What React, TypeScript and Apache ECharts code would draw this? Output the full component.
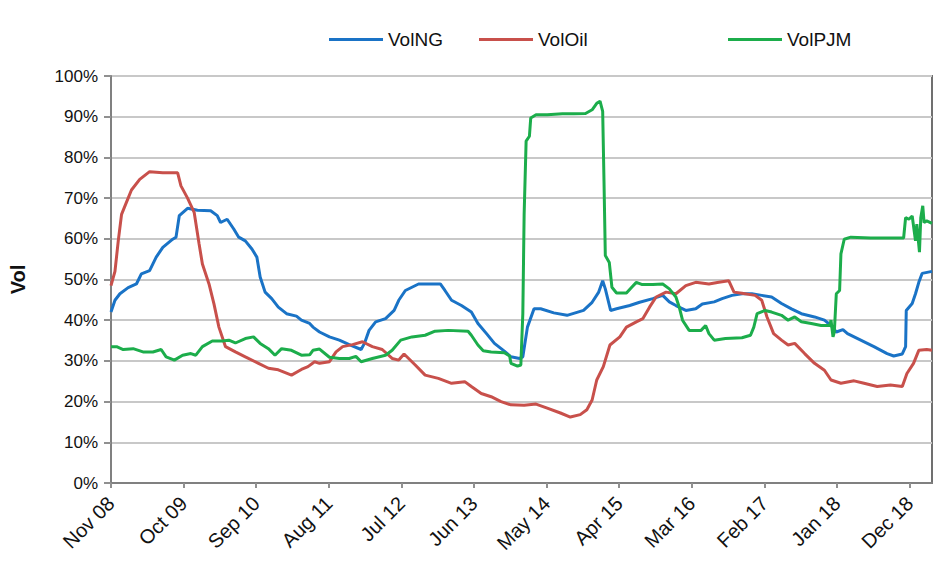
import React, { useEffect, useRef } from "react";
import * as echarts from "echarts";

// x = months since Nov 08
const xLabels = ["Nov 08", "Oct 09", "Sep 10", "Aug 11", "Jul 12", "Jun 13", "May 14", "Apr 15", "Mar 16", "Feb 17", "Jan 18", "Dec 18"];
const tickMonths = [0, 11, 22, 33, 44, 55, 66, 77, 88, 99, 110, 121];
const xMax = 124.4;

const volNG: [number, number][] = [
  [0, 42], [0.6, 44.9], [1.35, 46.5], [2.6, 48], [3.85, 48.9], [4.6, 51.4], [5.85, 52.2], [6.85, 55.5], [7.85, 57.9], [9.35, 59.9], [9.85, 60.4], [10.35, 65.7], [11.6, 67.5], [13.1, 67], [15.1, 66.9], [16.1, 65.7], [16.6, 64], [17.6, 64.8], [18.6, 62.4], [19.35, 60.4], [20.35, 59.5], [21.35, 57.5], [22.1, 55.5], [22.6, 50.6], [23.35, 46.9], [24.35, 45.3], [25.35, 43.2], [26.6, 41.6], [28.1, 41], [28.85, 40], [30.1, 39.2],
  [30.6, 38.3], [31.6, 37.1], [33.1, 35.9], [34.6, 35.1], [36.1, 34], [37.9, 32.8], [38.4, 34.3], [39.1, 37.5], [40.1, 39.6], [41.6, 40.4], [42.9, 42.4], [43.6, 44.9], [44.6, 47.3], [46.6, 48.9], [48.1, 48.9], [49.9, 48.9], [50.6, 47.3], [51.6, 44.9], [53.1, 43.6], [54.6, 42], [55.6, 39.2], [56.9, 36.7], [58.1, 34.3], [59.6, 32.4], [60.6, 31], [61.9, 30.6], [62.4, 31],
  [63.1, 38.3], [64.1, 42.8], [65.1, 42.8], [67.1, 41.8], [69.1, 41.2], [71.6, 42.4], [72.9, 44.4], [73.9, 46.9], [74.5, 49.7], [74.9, 47.7], [75.7, 42.4], [76.6, 42.8], [78.6, 43.6], [80.1, 44.4], [82.1, 45.3], [83.6, 46.1], [84.6, 44.5], [85.6, 43.6], [87.1, 42.4], [88.6, 42.8], [89.6, 44], [91.4, 44.5], [92.6, 45.3], [94.1, 46.1], [95.6, 46.5], [97.1, 46.5], [98.6, 46.1],
  [100.1, 45.7], [101.6, 44.1], [103.1, 42.8], [104.6, 41.6], [106.6, 40.8], [108.1, 40], [109.1, 38.7], [109.9, 37.1], [110.9, 37.7], [111.6, 36.7], [113.6, 35.1], [115.6, 33.5], [117.6, 31.8], [118.6, 31.2], [119.9, 31.7], [120.4, 33.5], [120.5, 42.4], [121.4, 44.1], [121.9, 46.5], [122.4, 49.3], [122.9, 51.5], [124.4, 52],
];

const volOil: [number, number][] = [
  [0, 48.5], [0.6, 52], [1.1, 59.5], [1.6, 66], [2.35, 69], [3.1, 72], [4.35, 74.6], [5.85, 76.5], [7.85, 76.2], [10.1, 76.2], [10.6, 73], [11.6, 70], [12.6, 66.5], [13.35, 58.7], [13.85, 53.8], [14.85, 48.9], [15.6, 44], [16.35, 38.3], [17.35, 33.5], [18.85, 32.2], [20.35, 31], [22.35, 29.4], [23.85, 28.2], [25.35, 27.8], [27.35, 26.5], [28.85, 27.9], [29.85, 28.6], [30.85, 29.8], [31.6, 29.4],
  [33.1, 29.8], [34.1, 32.2], [35.1, 33.5], [36.6, 34], [38.1, 34.7], [39.6, 33.5], [41.1, 32.8], [42.6, 30.6], [43.6, 30.2], [44.4, 31.7], [45.1, 30.6], [46.1, 29], [47.6, 26.5], [49.6, 25.7], [51.6, 24.5], [53.6, 24.9], [54.6, 23.7], [56.1, 22], [57.6, 21.2], [59.1, 20], [60.6, 19.2], [62.6, 19.1], [64.4, 19.4], [66.1, 18.4], [68.1, 17.2], [69.6, 16.2], [71.1, 16.8], [72.1, 18], [72.9, 20.4],
  [73.6, 25.3], [74.6, 28.6], [75.6, 33.9], [77.1, 35.9], [78.1, 38.3], [79.6, 39.6], [80.6, 40.4], [81.6, 43.2], [82.6, 45.7], [84.1, 46.9], [85.6, 46.5], [87.1, 48.5], [88.6, 49.3], [90.6, 48.9], [92.1, 49.3], [93.6, 49.7], [94.4, 46.9], [95.6, 46.6], [97.6, 46.1], [98.6, 44.9], [99.4, 40.8], [100.4, 36.7], [101.6, 35.1], [102.6, 33.9], [103.6, 34.3], [105.1, 31.8], [106.6, 29.4],
  [108.1, 27.7], [109.1, 25.3], [110.6, 24.5], [112.6, 25.1], [114.1, 24.5], [116.1, 23.7], [118.1, 24.1], [119.9, 23.7], [120.6, 26.9], [121.6, 29.4], [122.4, 32.6], [123.6, 32.8], [124.4, 32.6],
];

const volPJM: [number, number][] = [
  [0, 33.5], [0.85, 33.5], [1.85, 32.8], [3.35, 33], [4.85, 32.2], [6.35, 32.2], [7.6, 32.8], [8.35, 31], [9.6, 30.2], [10.85, 31.4], [12.1, 31.8], [12.85, 31.4], [13.85, 33.5], [15.35, 34.9], [16.85, 34.9], [17.85, 35.1], [18.85, 34.4], [20.35, 35.5], [21.6, 35.9], [22.6, 34.3], [23.85, 33], [24.85, 31.4], [25.85, 33], [27.35, 32.6], [28.85, 31.4], [30.1, 31.5],
  [30.6, 32.6], [31.6, 32.9], [33.1, 30.9], [34.6, 30.6], [36.1, 30.6], [37.1, 31.1], [37.9, 29.8], [39.6, 30.6], [41.6, 31.4], [42.6, 32.6], [43.9, 35.1], [45.6, 35.9], [47.6, 36.3], [49.1, 37.3], [51.1, 37.5], [54.1, 37.3], [54.6, 36.3], [55.6, 33.9], [56.4, 32.5], [57.6, 32.2], [59.6, 32], [60.4, 31.2], [60.6, 29.4], [61.6, 28.7], [62.1, 29],
  [62.4, 41.6], [62.6, 66], [62.9, 84], [63.4, 85.2], [63.6, 89.7], [64.4, 90.5], [66.1, 90.5], [68.4, 90.7], [70.1, 90.7], [71.9, 90.8], [72.9, 91.7], [73.6, 93.3], [74.1, 93.8], [74.5, 91.3], [74.7, 74.2], [74.9, 55.9], [75.5, 54.2], [75.9, 48.1], [76.6, 46.7], [78.1, 46.7], [78.9, 48.1], [79.6, 49.3], [80.4, 48.8], [82.1, 48.8], [83.6, 48.9],
  [84.6, 47.7], [85.6, 45.7], [86.1, 43.2], [86.6, 40], [87.6, 37.5], [89.4, 37.5], [90.1, 38.7], [90.6, 36.7], [91.4, 35.1], [93.1, 35.5], [95.6, 35.7], [96.9, 36.3], [97.4, 38.3], [97.9, 41.6], [99.1, 42.4], [100.1, 42], [101.6, 41.2], [102.6, 40], [103.6, 40.8], [104.6, 39.6], [106.1, 39.2], [107.6, 38.7], [108.9, 38.7], [109.1, 40], [109.4, 35.9], [109.6, 37.1],
  [109.9, 46.5], [110.4, 47.3], [110.6, 56.3], [111.1, 59.9], [112.1, 60.4], [115.1, 60.2], [118.1, 60.2], [120.1, 60.2], [120.4, 65.2], [120.9, 64.8], [121.4, 65.6], [121.9, 59.5], [122.1, 63.6], [122.5, 56.7], [122.7, 65.2], [123, 68.1], [123.2, 64], [123.6, 64.4], [124.4, 63.8],
];

const seriesNames = ["VolNG", "VolOil", "VolPJM"];
const seriesColors = ["#1a73c6", "#c8504b", "#1cad4b"];
const legendLefts = [324, 474, 723];

const FONT = "'Liberation Sans', Arial, sans-serif";

export default function App() {
  const ref = useRef<HTMLDivElement>(null);
  useEffect(() => {
    if (!ref.current) return;
    const chart = echarts.init(ref.current, null, { renderer: "svg" });
    const datasets = [volNG, volOil, volPJM];
    chart.setOption({
      animation: false,
      backgroundColor: "#ffffff",
      textStyle: { fontFamily: FONT },
      legend: seriesNames.map((n, i) => ({
        data: [n],
        left: legendLefts[i],
        top: 25,
        icon: "rect",
        itemWidth: 54,
        itemHeight: 3,
        textStyle: { fontSize: 19, color: "#111", fontFamily: FONT },
        selectedMode: false,
      })),
      grid: {
        left: 101,
        right: 19,
        top: 76,
        bottom: 94,
        show: true,
        borderColor: "#707070",
        borderWidth: 2,
        containLabel: false,
      },
      xAxis: {
        type: "value",
        min: 0,
        max: xMax,
        axisLine: { show: true, lineStyle: { color: "#808080", width: 2 } },
        axisTick: { show: true, customValues: tickMonths, length: 5, lineStyle: { color: "#909090", width: 2 } },
        splitLine: { show: false },
        axisLabel: {
          customValues: tickMonths,
          rotate: 45,
          margin: 17,
          fontSize: 20,
          color: "#111",
          fontFamily: FONT,
          formatter: (v: number) => xLabels[Math.round(v / 11)] ?? "",
        },
      },
      yAxis: {
        type: "value",
        min: 0,
        max: 100,
        interval: 10,
        name: "Vol",
        nameLocation: "middle",
        nameRotate: 90,
        nameGap: 83,
        nameTextStyle: { fontSize: 20, fontWeight: "bold", color: "#111", fontFamily: FONT },
        axisLine: { show: true, lineStyle: { color: "#808080", width: 2 } },
        axisTick: { show: true, length: 7, lineStyle: { color: "#909090", width: 2 } },
        splitLine: { show: true, lineStyle: { color: "#c8c8c8", width: 2 } },
        axisLabel: { formatter: "{value}%", fontSize: 17, color: "#111", margin: 13, fontFamily: FONT },
      },
      series: datasets.map((d, i) => ({
        name: seriesNames[i],
        type: "line",
        data: d,
        showSymbol: false,
        symbol: "none",
        color: seriesColors[i],
        lineStyle: { width: 3, color: seriesColors[i] },
      })),
    });
    return () => chart.dispose();
  }, []);
  return <div ref={ref} style={{ position: "absolute", left: 0, top: 0, width: 951, height: 577 }} />;
}
